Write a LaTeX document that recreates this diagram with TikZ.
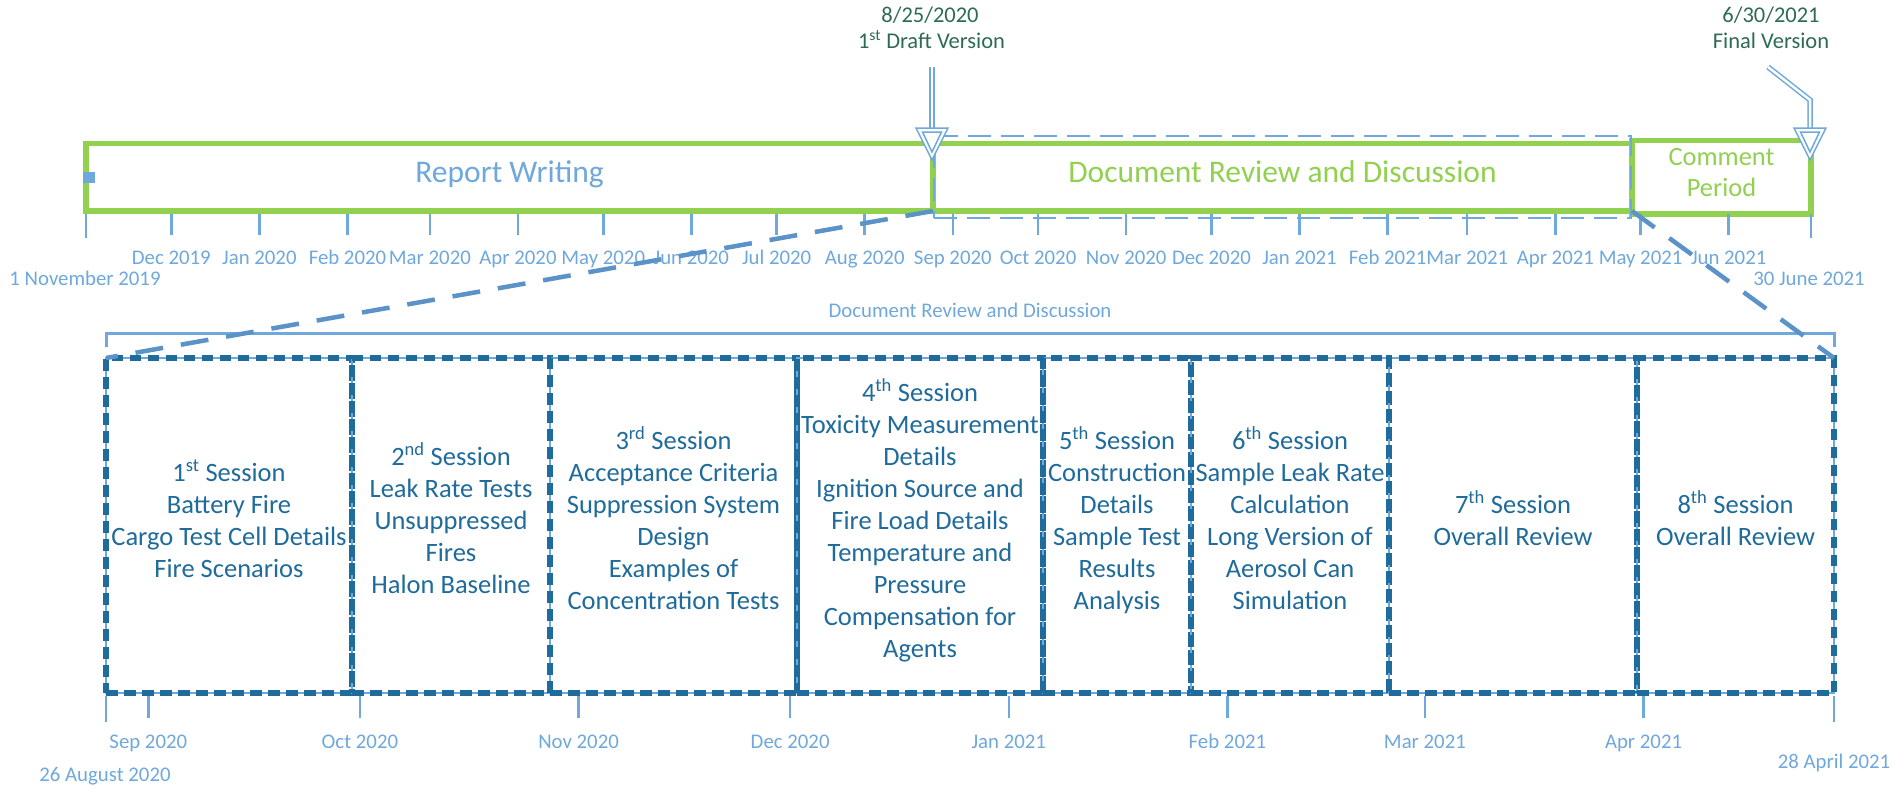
\documentclass[tikz,border=0pt]{standalone}
\usepackage{fontspec}
\setmainfont{Carlito}
\definecolor{lb}{HTML}{6FA8DC}
\definecolor{gr}{HTML}{92D050}
\definecolor{cn}{HTML}{5B93C8}
\definecolor{db}{HTML}{1F6B9B}
\definecolor{mg}{HTML}{2E6B57}
\newcommand\topst{\rule{0pt}{32pt}}
\newcommand\botst{\rule[-25pt]{0pt}{25pt}}
\tikzset{
  greenbox/.style={draw=gr, line width=5.5pt, minimum height=67.5pt, outer sep=0pt, inner sep=0pt},
  sess/.style={draw=db, line width=5.5pt, dash pattern=on 11.5pt off 6.5pt,
    preaction={draw=lb, line width=1.5pt, solid}, minimum height=335pt,
    inner sep=0pt, outer sep=0pt, align=center, text=db, font=\fontsize{26.5}{32}\selectfont},
  tickline/.style={draw=lb, line width=2.5pt},
  lab/.style={text=lb, font=\fontsize{20.8}{25}\selectfont, anchor=base, inner sep=0pt},
  ms/.style={text=mg, font=\fontsize{22.5}{25}\selectfont, anchor=base, inner sep=0pt},
  conn/.style={draw=cn, line width=4.5pt, dash pattern=on 28pt off 18pt},
  hlbox/.style={draw=lb, line width=2.5pt, dash pattern=on 23pt off 10pt, minimum width=697pt,
    minimum height=82pt, inner sep=0pt, outer sep=0pt},
  msarrow/.style={draw=lb, line width=1.5pt, double=white, double distance=2.5pt},
  mshead/.style={draw=lb, line width=1.5pt, fill=white},
}
\begin{document}
\begin{tikzpicture}[x=1pt,y=-1pt]
\fill[white] (0,0) rectangle (1895,787);
\useasboundingbox (0,0) rectangle (1895,787);

% top bar
\node[greenbox, minimum width=847pt, text=lb, font=\fontsize{31.5}{36}\selectfont,
  text height=20pt, text depth=10.5pt] (rw) at (509.5,177.25) {Report Writing};
\node[greenbox, minimum width=699pt, text=gr, font=\fontsize{31.5}{36}\selectfont,
  text height=20pt, text depth=10.5pt] (drd) at (1282.5,177.25) {Document Review and Discussion};
\node[greenbox, minimum width=179pt, text=gr, align=center, font=\fontsize{26.4}{30.5}\selectfont]
  (cp) at (1721.5,177.25) {\rule{0pt}{25pt}Comment\\Period\rule[-18pt]{0pt}{18pt}};
\fill[lb] (83,172) rectangle (95,183);
\node[hlbox] (hl) at (1282.5,177) {};

% top axis
\foreach \d/\lab [count=\i] in {30/Dec 2019, 61/Jan 2020, 92/Feb 2020, 121/Mar 2020, 152/Apr 2020,
  182/May 2020, 213/Jun 2020, 243/Jul 2020, 274/Aug 2020, 305/Sep 2020, 335/Oct 2020,
  366/Nov 2020, 396/Dec 2020, 427/Jan 2021, 458/Feb 2021, 486/Mar 2021, 517/Apr 2021,
  547/May 2021, 578/Jun 2021}{
  \draw[tickline] ({86+2.842*\d},214) -- ({86+2.842*\d},235);
  \node[lab] (tm\i) at ({86+2.842*\d},264) {\lab};
}
\draw[tickline] (86,214) -- (86,238);
\draw[tickline] (1811,214) -- (1811,238);
\node[lab] (tstart) at (85,285) {1 November 2019};
\node[lab] (tend) at (1809,285) {30 June 2021};

% milestones
\coordinate (a1s) at (932,67);
\coordinate (a1e) at (932,129);
\draw[msarrow] (a1s) -- (a1e);
\draw[mshead] (916,128) -- (948,128) -- (932,160) -- cycle;
\draw[lb, line width=1.5pt] (922.5,132) -- (941.5,132) -- (932,152) -- cycle;
\coordinate (a2s) at (1768,67);
\coordinate (a2m) at (1810,100);
\coordinate (a2e) at (1810,129);
\draw[msarrow] (a2s) -- (a2m) -- (a2e);
\draw[mshead] (1794,128) -- (1826,128) -- (1810,160) -- cycle;
\draw[lb, line width=1.5pt] (1800.5,132) -- (1819.5,132) -- (1810,152) -- cycle;
\node[ms] (m1a) at (930,23) {8/25/2020};
\node[ms] (m1b) at (931.5,48) {1\textsuperscript{st} Draft Version};
\node[ms] (m2a) at (1771,23) {6/30/2021};
\node[ms] (m2b) at (1771,48) {Final Version};

% bracket
\draw[lb, line width=3pt] (106,347) -- (106,333) -- (1834,333) -- (1834,347);
\node[lab] (brl) at (970,317) {Document Review and Discussion};

% sessions
\node[sess, minimum width=246pt] (s1) at (229,525.5) {\topst1\textsuperscript{st} Session\\Battery Fire\\Cargo Test Cell Details\\Fire Scenarios\botst};
\node[sess, minimum width=198pt] (s2) at (451,525.5) {\topst2\textsuperscript{nd} Session\\Leak Rate Tests\\Unsuppressed\\Fires\\Halon Baseline\botst};
\node[sess, minimum width=247pt] (s3) at (673.5,525.5) {\topst3\textsuperscript{rd} Session\\Acceptance Criteria\\Suppression System\\Design\\Examples of\\Concentration Tests\botst};
\node[sess, minimum width=246pt] (s4) at (920,525.5) {\topst4\textsuperscript{th} Session\\Toxicity Measurement\\Details\\Ignition Source and\\Fire Load Details\\Temperature and\\Pressure\\Compensation for\\Agents\botst};
\node[sess, minimum width=148pt] (s5) at (1117,525.5) {\topst5\textsuperscript{th} Session\\Construction\\Details\\Sample Test\\Results\\Analysis\botst};
\node[sess, minimum width=198pt] (s6) at (1290,525.5) {\topst6\textsuperscript{th} Session\\Sample Leak Rate\\Calculation\\Long Version of\\Aerosol Can\\Simulation\botst};
\node[sess, minimum width=248pt] (s7) at (1513,525.5) {\topst7\textsuperscript{th} Session\\Overall Review\botst};
\node[sess, minimum width=197pt] (s8) at (1735.5,525.5) {\topst8\textsuperscript{th} Session\\Overall Review\botst};

% connectors
\draw[conn] (drd.south west) -- (s1.north west);
\draw[conn] (drd.south east) -- (s8.north east);

% bottom axis
\foreach \d/\lab [count=\i] in {6/Sep 2020, 36/Oct 2020, 67/Nov 2020, 97/Dec 2020, 128/Jan 2021,
  159/Feb 2021, 187/Mar 2021, 218/Apr 2021}{
  \draw[tickline] ({106+7.053*\d},696) -- ({106+7.053*\d},718);
  \node[lab] (bm\i) at ({106+7.053*\d},748) {\lab};
}
\draw[tickline] (106,696) -- (106,722);
\draw[tickline] (1834,696) -- (1834,722);
\node[lab] (bstart) at (105,781) {26 August 2020};
\node[lab] (bend) at (1834,768) {28 April 2021};
\end{tikzpicture}
\end{document}
